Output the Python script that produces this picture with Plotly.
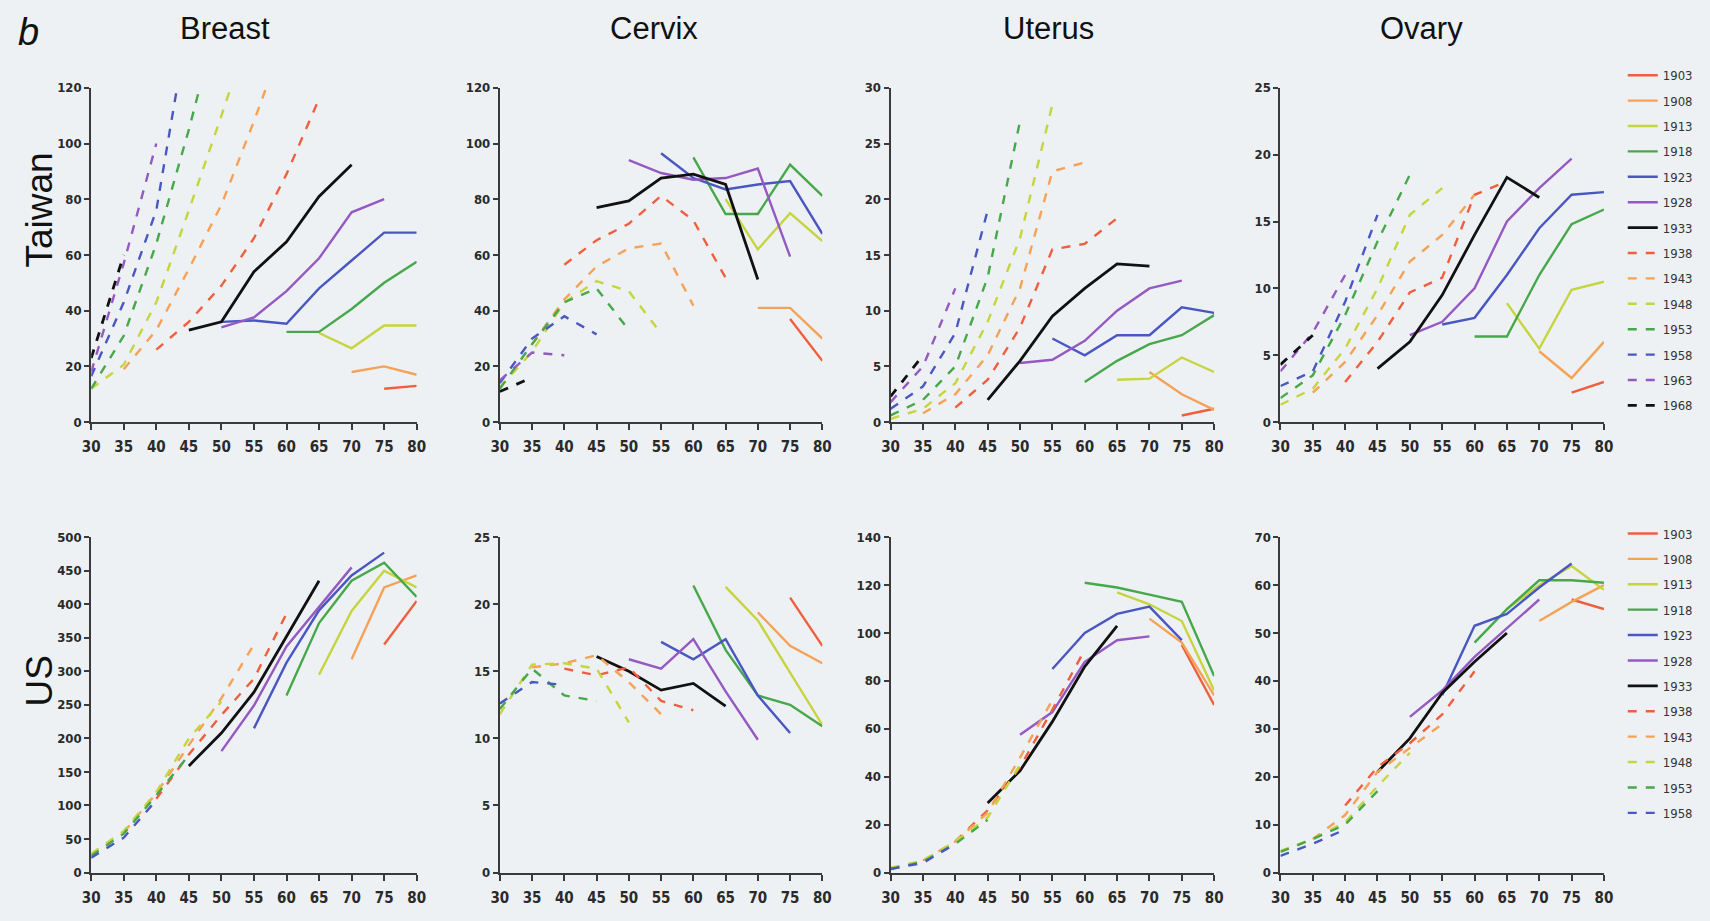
import plotly.graph_objects as go

N = None
AGES = [30, 35, 40, 45, 50, 55, 60, 65, 70, 75, 80]
COHORTS_TW = ["1903", "1908", "1913", "1918", "1923", "1928", "1933",
              "1938", "1943", "1948", "1953", "1958", "1963", "1968"]
COHORTS_US = COHORTS_TW[:12]

# ---- Taiwan (rows = cohorts, columns = ages 30..80) ----
TW_BREAST = [
    [N, N, N, N, N, N, N, N, N, 12, 13],
    [N, N, N, N, N, N, N, N, 18, 20, 17],
    [N, N, N, N, N, N, N, 32, 26.5, 34.7, 34.7],
    [N, N, N, N, N, N, 32.4, 32.4, 40.6, 50, 57.6],
    [N, N, N, N, 36, 36.5, 35.3, 48, 58, 68, 68],
    [N, N, N, N, 34, 37.6, 47, 58.8, 75.3, 80, N],
    [N, N, N, 33, 36, 54, 64.7, 81, 92.4, N, N],
    [N, N, 26, 36, 49, 66, 89, 116, N, N, N],
    [N, 19, 33, 55, 78, 108, 140, N, N, N, N],
    [12, 20.6, 43, 76, 110, 145, N, N, N, N, N],
    [12, 31, 64, 105, 150, N, N, N, N, N, N],
    [16.5, 43, 76, 145, N, N, N, N, N, N, N],
    [18, 57, 100, N, N, N, N, N, N, N, N],
    [23, 60, N, N, N, N, N, N, N, N, N],
]
TW_CERVIX = [
    [N, N, N, N, N, N, N, N, N, 37, 22],
    [N, N, N, N, N, N, N, N, 41, 41, 30],
    [N, N, N, N, N, N, N, 80, 62, 75, 65],
    [N, N, N, N, N, N, 95, 74.7, 74.7, 92.4, 81.2],
    [N, N, N, N, N, 96.5, 87.6, 83.5, 85.3, 86.5, 67.6],
    [N, N, N, N, 94, 89.4, 87, 87.6, 91, 59.4, N],
    [N, N, N, 77, 79.4, 87.6, 89, 85.3, 51.2, N, N],
    [N, N, 56.5, 65.3, 71.2, 81.2, 72.4, 51.8, N, N, N],
    [N, 28, 44, 55.9, 62.4, 64.1, 41.8, N, N, N, N],
    [12.4, 25.3, 43, 50.6, 47, 31.8, N, N, N, N, N],
    [12, 28, 43, 48, 33, N, N, N, N, N, N],
    [14, 30, 38, 31.5, N, N, N, N, N, N, N],
    [15, 25, 24, N, N, N, N, N, N, N, N],
    [11, 16, N, N, N, N, N, N, N, N, N],
]
TW_UTERUS = [
    [N, N, N, N, N, N, N, N, N, 0.6, 1.2],
    [N, N, N, N, N, N, N, N, 4.5, 2.5, 1.1],
    [N, N, N, N, N, N, N, 3.8, 3.9, 5.8, 4.5],
    [N, N, N, N, N, N, 3.6, 5.5, 7, 7.8, 9.6],
    [N, N, N, N, N, 7.5, 6, 7.8, 7.8, 10.3, 9.8],
    [N, N, N, N, 5.3, 5.6, 7.3, 10, 12, 12.7, N],
    [N, N, N, 2, 5.5, 9.5, 12, 14.2, 14, N, N],
    [N, N, 1.3, 3.8, 8.5, 15.5, 16, 18.3, N, N, N],
    [N, 0.8, 2.5, 6, 12, 22.5, 23.3, N, N, N, N],
    [0.3, 1.2, 3.5, 9, 16.5, 28.5, N, N, N, N, N],
    [0.6, 2, 5, 13, 27, N, N, N, N, N, N],
    [1.2, 3.2, 8, 19, N, N, N, N, N, N, N],
    [1.8, 5, 12, N, N, N, N, N, N, N, N],
    [2.3, 6, N, N, N, N, N, N, N, N, N],
]
TW_OVARY = [
    [N, N, N, N, N, N, N, N, N, 2.2, 3],
    [N, N, N, N, N, N, N, N, 5.3, 3.3, 6],
    [N, N, N, N, N, N, N, 8.9, 5.5, 9.9, 10.5],
    [N, N, N, N, N, N, 6.4, 6.4, 11, 14.8, 15.9],
    [N, N, N, N, N, 7.3, 7.8, 11, 14.5, 17, 17.2],
    [N, N, N, N, 6.5, 7.5, 10, 15, 17.5, 19.7, N],
    [N, N, N, 4, 6, 9.5, 14, 18.3, 16.8, N, N],
    [N, N, 3, 6, 9.7, 10.8, 17, 18, N, N, N],
    [N, 2.2, 4.5, 8, 12, 14, 17, N, N, N, N],
    [1.3, 2.5, 5.5, 10, 15.5, 17.5, N, N, N, N, N],
    [1.8, 3.5, 8, 13.5, 18.5, N, N, N, N, N, N],
    [2.7, 3.8, 9, 15.5, N, N, N, N, N, N, N],
    [3.8, 6.7, 11, N, N, N, N, N, N, N, N],
    [4.3, 6.5, N, N, N, N, N, N, N, N, N],
]

# ---- US ----
US_BREAST = [
    [N, N, N, N, N, N, N, N, N, 340, 405],
    [N, N, N, N, N, N, N, N, 318, 425, 443],
    [N, N, N, N, N, N, N, 295, 390, 450, 425],
    [N, N, N, N, N, N, 264, 372, 435, 462, 411],
    [N, N, N, N, N, 215, 313, 391, 443, 477, N],
    [N, N, N, N, 181, 249, 337, 396, 455, N, N],
    [N, N, N, 159, 208, 269, 352, 435, N, N, N],
    [N, N, 110, 176, 235, 289, 386, N, N, N, N],
    [N, 60, 118, 190, 260, 340, N, N, N, N, N],
    [28, 62, 120, 200, 255, N, N, N, N, N, N],
    [25, 58, 115, 175, N, N, N, N, N, N, N],
    [22, 52, 108, N, N, N, N, N, N, N, N],
]
US_CERVIX = [
    [N, N, N, N, N, N, N, N, N, 20.5, 16.9],
    [N, N, N, N, N, N, N, N, 19.4, 16.9, 15.6],
    [N, N, N, N, N, N, N, 21.3, 18.8, 14.9, 11],
    [N, N, N, N, N, N, 21.4, 16.6, 13.2, 12.5, 10.9],
    [N, N, N, N, N, 17.2, 15.9, 17.4, 13.2, 10.4, N],
    [N, N, N, N, 15.9, 15.2, 17.4, 13.5, 9.9, N, N],
    [N, N, N, 16.1, 15, 13.6, 14.1, 12.4, N, N, N],
    [N, N, 15.2, 14.7, 15.3, 12.8, 12.1, N, N, N, N],
    [N, 15.3, 15.6, 16.2, 14.2, 11.8, N, N, N, N, N],
    [11.8, 15.5, 15.6, 15.2, 11.2, N, N, N, N, N, N],
    [12.2, 15.2, 13.2, 12.8, N, N, N, N, N, N, N],
    [12.6, 14.2, 14, N, N, N, N, N, N, N, N],
]
US_UTERUS = [
    [N, N, N, N, N, N, N, N, N, 95, 70],
    [N, N, N, N, N, N, N, N, 106, 96, 74],
    [N, N, N, N, N, N, N, 117, 112, 105, 76],
    [N, N, N, N, N, N, 121, 119, 116, 113, 82],
    [N, N, N, N, N, 85, 100, 108, 111, 97, N],
    [N, N, N, N, 57.5, 67, 88, 97, 98.6, N, N],
    [N, N, N, 29, 42.5, 63, 86, 103, N, N, N],
    [N, N, 13, 26, 44, 68, 93, N, N, N, N],
    [N, 5, 13, 25, 48, 72, N, N, N, N, N],
    [2, 5, 13, 23, 45, N, N, N, N, N, N],
    [1.5, 4.5, 12, 22, N, N, N, N, N, N, N],
    [1.5, 4, 12, N, N, N, N, N, N, N, N],
]
US_OVARY = [
    [N, N, N, N, N, N, N, N, N, 57, 55],
    [N, N, N, N, N, N, N, N, 52.5, 56.5, 60],
    [N, N, N, N, N, N, N, 55, 60, 64, 59],
    [N, N, N, N, N, N, 48, 55, 61, 61, 60.5],
    [N, N, N, N, N, 37, 51.5, 54, 59.5, 64.5, N],
    [N, N, N, N, 32.5, 38, 45, 51, 57, N, N],
    [N, N, N, 21, 28, 37.5, 44, 50, N, N, N],
    [N, N, 14, 22, 27, 33, 42, N, N, N, N],
    [N, 7, 12, 21, 26, 31, N, N, N, N, N],
    [4.5, 7, 10.5, 18, 25, N, N, N, N, N, N],
    [4.3, 7, 10, 17, N, N, N, N, N, N, N],
    [3.5, 6, 9, N, N, N, N, N, N, N, N],
]

PANEL_TITLES = ["Breast", "Cervix", "Uterus", "Ovary"]
ROW_LABELS = ["Taiwan", "US"]
Y_RANGES = [[120, 120, 30, 25], [500, 25, 140, 70]]
Y_DTICKS = [[20, 20, 5, 5], [50, 5, 20, 10]]
X_TICKS = [30, 35, 40, 45, 50, 55, 60, 65, 70, 75, 80]

COLORS = ["#ef5f3e", "#f5a257", "#c6d43e", "#46a84a", "#4a57c2", "#9559c2", "#111111"]
BG = "#eef1f4"

W, H = 1694, 905
def px_x(p):
    return (p - 8) / W
def px_y(p):
    return 1 - (p - 8) / H

NARROW = "Liberation Sans Narrow, Arial Narrow, DejaVu Sans Condensed, sans-serif"
SANS = "Liberation Sans, Arial, sans-serif"

col_px = [(83, 412), (496, 822), (891, 1218), (1285, 1612)]
row_px = [(82, 422), (539, 880)]

fig = go.Figure()
layout = {}
data_grid = [[TW_BREAST, TW_CERVIX, TW_UTERUS, TW_OVARY],
             [US_BREAST, US_CERVIX, US_UTERUS, US_OVARY]]
cohort_lists = [COHORTS_TW, COHORTS_US]

k = 0
for r in range(2):
    for c in range(4):
        k += 1
        suffix = "" if k == 1 else str(k)
        xa, ya = "x" + suffix, "y" + suffix
        layout["xaxis" + suffix] = dict(
            domain=[px_x(col_px[c][0]), px_x(col_px[c][1])], anchor=ya,
            range=[30, 80], tickvals=X_TICKS, showgrid=False, zeroline=False,
            showline=True, linecolor="#3a3a3a", linewidth=2, ticks="outside",
            ticklen=6, tickwidth=1.6, tickcolor="#3a3a3a", ticklabelstandoff=4,
            tickfont=dict(family=NARROW, size=15, color="#2a2a2a", weight="bold"),
        )
        layout["yaxis" + suffix] = dict(
            domain=[px_y(row_px[r][1]), px_y(row_px[r][0])], anchor=xa,
            range=[0, Y_RANGES[r][c]], dtick=Y_DTICKS[r][c], tick0=0,
            showgrid=False, zeroline=False,
            showline=True, linecolor="#3a3a3a", linewidth=2, ticks="outside",
            ticklen=5, tickwidth=1.6, tickcolor="#3a3a3a",
            tickfont=dict(family=NARROW, size=13, color="#2a2a2a", weight="bold"),
        )
        rows = data_grid[r][c]
        for i, coh in enumerate(cohort_lists[r]):
            color = COLORS[i % 7]
            dashed = i >= 7
            width = 2.8 if color == "#111111" else 2.4
            fig.add_trace(go.Scatter(
                x=AGES, y=rows[i], xaxis=xa, yaxis=ya, mode="lines",
                name=coh, legendgroup=ROW_LABELS[r] + coh,
                legend="legend" if r == 0 else "legend2",
                showlegend=(c == 3), connectgaps=False,
                line=dict(color=color, width=width, dash="dash" if dashed else "solid"),
                hoverinfo="skip",
            ))

annotations = [
    dict(text="<i>b</i>", x=px_x(20), y=px_y(25), xref="paper", yref="paper",
         xanchor="center", yanchor="middle",
         showarrow=False, font=dict(family=SANS, size=38, color="#111")),
]
title_x = [218, 652, 1051, 1428]
for t, x in zip(PANEL_TITLES, title_x):
    annotations.append(dict(text=t, x=px_x(x), y=px_y(22), xref="paper", yref="paper",
                            xanchor="center", yanchor="middle",
                            showarrow=False, font=dict(family=SANS, size=31, color="#111")))
for lab, y in zip(ROW_LABELS, [206, 685]):
    annotations.append(dict(text=lab, x=px_x(31), y=px_y(y), xref="paper", yref="paper",
                            xanchor="center", yanchor="middle",
                            textangle=-90, showarrow=False,
                            font=dict(family=SANS, size=37, color="#111")))

leg_common = dict(bgcolor="rgba(0,0,0,0)", borderwidth=0, tracegroupgap=5.5,
                  font=dict(family=NARROW, size=13, color="#333"),
                  xanchor="left", yanchor="top", itemclick=False, itemdoubleclick=False)
fig.update_layout(
    width=W, height=H, margin=dict(l=0, r=0, t=0, b=0),
    paper_bgcolor=BG, plot_bgcolor=BG,
    annotations=annotations,
    legend=dict(x=px_x(1631), y=px_y(54), **leg_common),
    legend2=dict(x=px_x(1631), y=px_y(520), **leg_common),
    **layout,
)

fig.write_html("out.html",
               post_script="document.body.style.background='%s';" % BG)
